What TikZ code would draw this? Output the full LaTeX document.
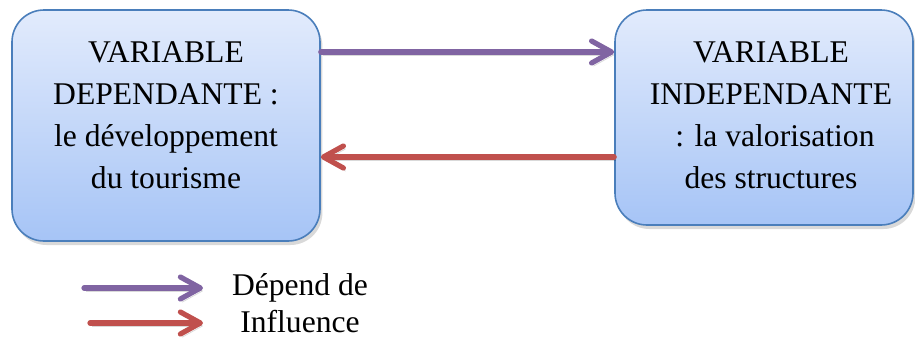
\documentclass[tikz,border=0pt]{standalone}
\usepackage{fontspec}
\setmainfont{Liberation Serif}
\usetikzlibrary{arrows.meta,shadows}

\definecolor{boxtop}{HTML}{E2EBFC}
\definecolor{boxbottom}{HTML}{A6C4F6}
\definecolor{boxline}{HTML}{4A7EBB}
\definecolor{purplearrow}{HTML}{8064A2}
\definecolor{redarrow}{HTML}{C0504D}

\begin{document}
\begin{tikzpicture}[x=0.5pt,y=-0.5pt,
            varbox/.style = {rounded corners=16pt,
                draw=boxline, line width=0.8pt,
                top color=boxtop, bottom color=boxbottom,
                drop shadow={shadow xshift=1.2pt, shadow yshift=-2pt, opacity=0.3},
                inner sep=0pt},
            boxtext/.style = {align=center,
                font=\fontsize{15.8}{21}\selectfont},
            flow/.style = {line width=2.6pt, line cap=round,
                -{Straight Barb[round, length=10pt, width=11pt]},
                preaction={draw=black, opacity=0.15,
                    transform canvas={shift={(1pt,-1.5pt)}}}},
            dependarrow/.style = {flow, draw=purplearrow},
            influarrow/.style = {flow, draw=redarrow},
            legendtext/.style = {anchor=base,
                font=\fontsize{15.8}{21}\selectfont}]

        \useasboundingbox (0,0) rectangle (915,338);

        % Dependent variable
        \node[varbox, minimum width=154pt, minimum height=115.5pt] (dep) at (166,125.5) {};
        \node[boxtext] (deptext) at (166,115) {VARIABLE\\DEPENDANTE :\\le développement\\du tourisme};

        % Independent variable
        \node[varbox, minimum width=149pt, minimum height=107.5pt] (indep) at (764,117.5) {};
        \node[boxtext] (indeptext) at (771,115) {VARIABLE\\INDEPENDANTE\\\ : la valorisation\\des structures};

        % Links
        \draw[dependarrow] (dep.east |- 0,52) -- (indep.west |- 0,52);
        \draw[influarrow] (indep.west |- 0,157) -- (dep.east |- 0,157);

        % Legend
        \coordinate (depfrom) at (84,288);
        \coordinate (depto) at (203,288);
        \coordinate (inffrom) at (90,323);
        \coordinate (infto) at (203,323);
        \draw[dependarrow] (depfrom) -- (depto);
        \draw[influarrow] (inffrom) -- (infto);
        \node[legendtext] (deplabel) at (300,295) {Dépend de};
        \node[legendtext] (inflabel) at (300,332) {Influence};

\end{tikzpicture}
\end{document}
